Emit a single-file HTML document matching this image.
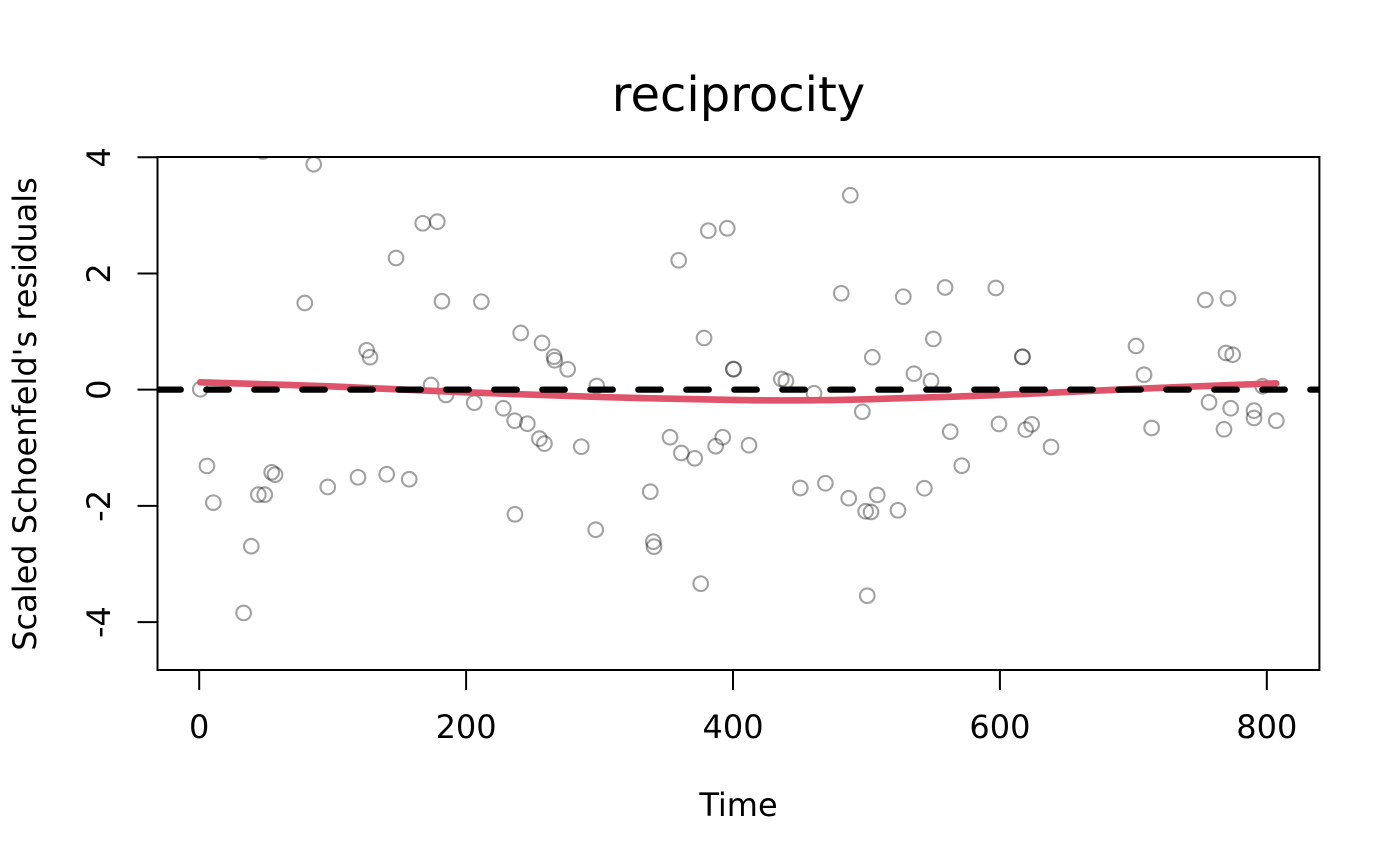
<!DOCTYPE html>
<html lang="en">
<head>
<meta charset="utf-8">
<title>reciprocity</title>
<style>
html,body{margin:0;padding:0;background:#fff;}
svg{display:block;}
text{font-family:"DejaVu Sans",sans-serif;fill:#000;}
</style>
</head>
<body>
<svg id="chart" width="1400" height="866" viewBox="0 0 1400 866" xmlns="http://www.w3.org/2000/svg">
  <defs>
    <clipPath id="plot-clip"><rect x="157.5" y="157" width="1161.9" height="513"></rect></clipPath>
  </defs>
  <rect x="0" y="0" width="1400" height="866" fill="#fff"></rect>
  <g id="points" clip-path="url(#plot-clip)"></g>
  <g id="lines" clip-path="url(#plot-clip)"></g>
  <g id="axes"></g>
  <rect x="157.5" y="157" width="1161.9" height="513" fill="none" stroke="#000" stroke-width="2"></rect>
  <text x="738.5" y="111" font-size="48" text-anchor="middle">reciprocity</text>
  <text x="738.5" y="816" font-size="32" text-anchor="middle">Time</text>
  <text transform="translate(36 414) rotate(-90)" font-size="32" text-anchor="middle">Scaled Schoenfeld's residuals</text>
</svg>
<script>
const xTicks = [0, 200, 400, 600, 800];
const yTicks = [-4, -2, 0, 2, 4];
const referenceLevel = 0;

const residualTimes = [85.8,167.5,178.4,147.5,79.1,181.9,211.4,240.9,256.9,125.5,128,173.7,0.8,184.9,206.1,227.9,236.4,245.9,254.9,258.7,
  5.8,10.6,39,33.3,44.3,49.1,54.3,56.8,96.3,119,140.5,157.4,236.6,47.8,265.9,266.4,276.1,297.9,359.3,381.5,
  395.7,487.9,481.1,527.6,558.9,378.3,400.2,400.5,436.2,439.7,460.7,496.9,504.4,535.6,548.4,550.1,286.3,352.8,361.3,371.3,
  392.3,387,412,450.4,469.2,486.7,508.1,499.4,503.4,523.6,543.4,338,297.1,340.3,340.8,375.8,500.6,596.9,616.8,616.9,
  702,708,753.9,770.9,769.4,774.4,796.9,756.7,772.9,790.4,790.4,807.1,767.9,713.7,562.8,599.3,623.8,619.3,638.3,571.4];
const residualValues = [3.88,2.864,2.892,2.267,1.492,1.522,1.515,0.976,0.804,0.678,0.558,0.081,0.007,-0.091,-0.224,-0.32,-0.534,-0.585,-0.843,-0.929,
  -1.313,-1.945,-2.695,-3.843,-1.807,-1.807,-1.422,-1.463,-1.675,-1.508,-1.456,-1.542,-2.145,4.1,0.568,0.506,0.351,0.064,2.227,2.737,
  2.778,3.346,1.659,1.601,1.759,0.89,0.356,0.351,0.184,0.15,-0.062,-0.379,0.558,0.275,0.15,0.873,-0.981,-0.819,-1.09,-1.181,
  -0.819,-0.974,-0.957,-1.692,-1.611,-1.869,-1.812,-2.093,-2.105,-2.076,-1.697,-1.756,-2.41,-2.616,-2.702,-3.339,-3.546,1.75,0.563,0.568,
  0.752,0.258,1.544,1.573,0.632,0.602,0.059,-0.217,-0.32,-0.361,-0.487,-0.534,-0.682,-0.659,-0.723,-0.59,-0.596,-0.688,-0.986,-1.308];

const smoothTimes = [0.8,100,200,300,400,450,500,600,700,807];
const smoothValues = [0.127,0.055,-0.045,-0.126,-0.177,-0.183,-0.165,-0.091,0.012,0.11];

const xDomain = [-31.25, 839.4];
const yDomain = [-4.825, 4.005];

function xScale(v) { return 157.5 + (v - xDomain[0]) / (xDomain[1] - xDomain[0]) * 1161.9; }
function yScale(v) { return 670 - (v - yDomain[0]) / (yDomain[1] - yDomain[0]) * 513; }

const NS = 'http://www.w3.org/2000/svg';
const pointsGroup = document.getElementById('points');
const linesGroup = document.getElementById('lines');
const axesGroup = document.getElementById('axes');

residualTimes.forEach(function (t, i) {
  const c = document.createElementNS(NS, 'circle');
  
  
  c.setAttribute('cx', xScale(t));
  c.setAttribute('cy', yScale(residualValues[i]));
  c.setAttribute('r', 7.3);
  c.setAttribute('fill', 'none');
  c.setAttribute('stroke', 'rgba(0,0,0,0.37)');
  c.setAttribute('stroke-width', 2.1);
  pointsGroup.appendChild(c);
});

function smoothPath(xs, ys) {
  const p = xs.map(function (x, i) { return [xScale(x), yScale(ys[i])]; });
  let d = 'M' + p[0][0] + ' ' + p[0][1];
  for (let i = 0; i < p.length - 1; i++) {
    const a = p[Math.max(i - 1, 0)], b = p[i], c = p[i + 1], e = p[Math.min(i + 2, p.length - 1)];
    d += 'C' + (b[0] + (c[0] - a[0]) / 6) + ' ' + (b[1] + (c[1] - a[1]) / 6) + ' ' +
         (c[0] - (e[0] - b[0]) / 6) + ' ' + (c[1] - (e[1] - b[1]) / 6) + ' ' + c[0] + ' ' + c[1];
  }
  return d;
}

const smoothLine = document.createElementNS(NS, 'path');


smoothLine.setAttribute('d', smoothPath(smoothTimes, smoothValues));
smoothLine.setAttribute('fill', 'none');
smoothLine.setAttribute('stroke', '#DF536B');
smoothLine.setAttribute('stroke-width', 6.6);
smoothLine.setAttribute('stroke-linecap', 'round');
linesGroup.appendChild(smoothLine);

const zeroLine = document.createElementNS(NS, 'line');


zeroLine.setAttribute('x1', 158.3);
zeroLine.setAttribute('x2', 1319.4);
zeroLine.setAttribute('y1', yScale(referenceLevel));
zeroLine.setAttribute('y2', yScale(referenceLevel));
zeroLine.setAttribute('stroke', '#000');
zeroLine.setAttribute('stroke-width', 6.25);
zeroLine.setAttribute('stroke-linecap', 'round');
zeroLine.setAttribute('stroke-dasharray', '22.5 25.5');
linesGroup.appendChild(zeroLine);

xTicks.forEach(function (t) {
  const x = xScale(t);
  const tick = document.createElementNS(NS, 'line');
  
  
  tick.setAttribute('x1', x);
  tick.setAttribute('x2', x);
  tick.setAttribute('y1', 670);
  tick.setAttribute('y2', 690);
  tick.setAttribute('stroke', '#000');
  tick.setAttribute('stroke-width', 2);
  axesGroup.appendChild(tick);
  const label = document.createElementNS(NS, 'text');
  
  
  label.setAttribute('x', x);
  label.setAttribute('y', 738);
  label.setAttribute('font-size', 32);
  label.setAttribute('text-anchor', 'middle');
  label.textContent = String(t);
  axesGroup.appendChild(label);
});

yTicks.forEach(function (t) {
  const y = yScale(t);
  const tick = document.createElementNS(NS, 'line');
  
  
  tick.setAttribute('x1', 137.5);
  tick.setAttribute('x2', 157.5);
  tick.setAttribute('y1', y);
  tick.setAttribute('y2', y);
  tick.setAttribute('stroke', '#000');
  tick.setAttribute('stroke-width', 2);
  axesGroup.appendChild(tick);
  const label = document.createElementNS(NS, 'text');
  
  
  label.setAttribute('transform', 'translate(110 ' + y + ') rotate(-90)');
  label.setAttribute('font-size', 32);
  label.setAttribute('text-anchor', 'middle');
  label.textContent = String(t);
  axesGroup.appendChild(label);
});

const yAxisLine = document.createElementNS(NS, 'line');


yAxisLine.setAttribute('x1', 157.5);
yAxisLine.setAttribute('x2', 157.5);
yAxisLine.setAttribute('y1', yScale(yTicks[0]));
yAxisLine.setAttribute('y2', yScale(yTicks[yTicks.length - 1]));
yAxisLine.setAttribute('stroke', '#000');
yAxisLine.setAttribute('stroke-width', 2);
axesGroup.appendChild(yAxisLine);

const xAxisLine = document.createElementNS(NS, 'line');


xAxisLine.setAttribute('x1', xScale(xTicks[0]));
xAxisLine.setAttribute('x2', xScale(xTicks[xTicks.length - 1]));
xAxisLine.setAttribute('y1', 670);
xAxisLine.setAttribute('y2', 670);
xAxisLine.setAttribute('stroke', '#000');
xAxisLine.setAttribute('stroke-width', 2);
axesGroup.appendChild(xAxisLine);
</script>
</body>
</html>
